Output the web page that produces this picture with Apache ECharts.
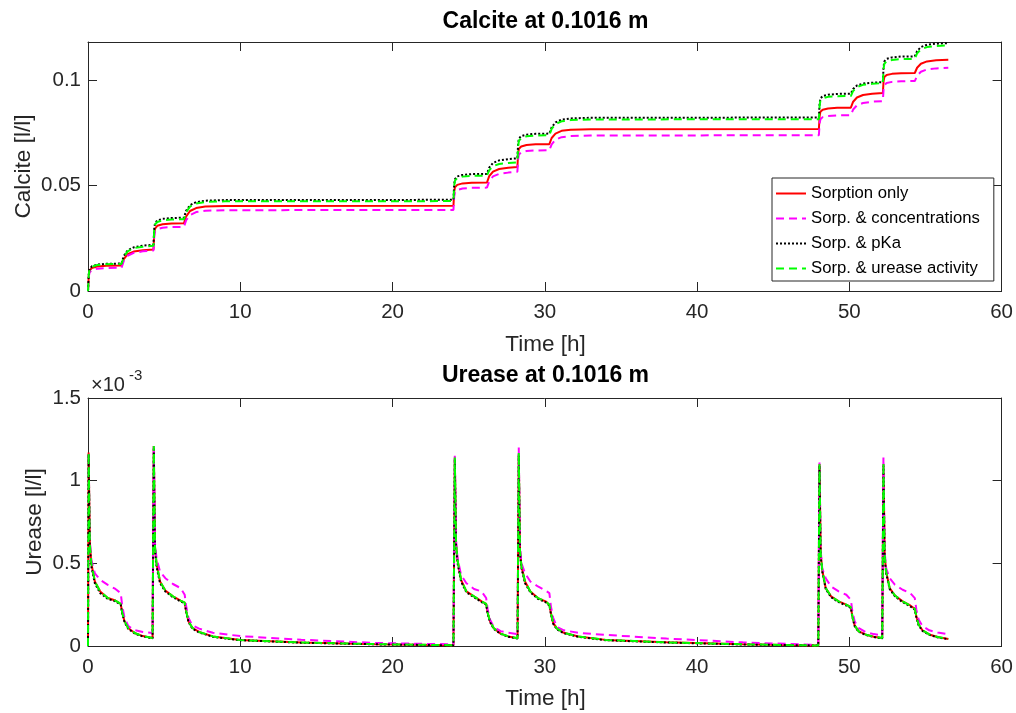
<!DOCTYPE html>
<html>
<head>
<meta charset="utf-8">
<script src="https://cdn.jsdelivr.net/npm/echarts@6/dist/echarts.min.js"></script>
<style>
html,body{margin:0;padding:0;background:#fff;}
#chart{width:1016px;height:713px;}
</style>
</head>
<body>
<div id="chart"></div>
<script>
// ---------- Data ----------
const seriesNames = ['Sorption only', 'Sorp. & concentrations', 'Sorp. & pKa', 'Sorp. & urease activity'];
const xTicks = [0, 10, 20, 30, 40, 50, 60];
const calciteTicks = [0, 0.05, 0.1];
const ureaseTicks = [0, 0.5, 1, 1.5]; // ×10^-3

// Calcite [l/l] vs time [h]
const calciteTime = [
  0, 0.05, 0.1, 0.25, 0.6, 1.2,
  2.2, 2.35, 2.6, 3.0, 3.6,
  4.3, 4.35, 4.4, 4.55, 4.9, 5.5,
  6.3, 6.45, 6.7, 7.1, 7.7, 9,
  24, 24.05, 24.1, 24.25, 24.6, 25.2,
  26.2, 26.35, 26.6, 27.0, 27.6,
  28.2, 28.25, 28.3, 28.45, 28.8, 29.4,
  30.3, 30.45, 30.7, 31.1, 31.7, 33,
  48, 48.05, 48.1, 48.25, 48.6, 49.2,
  50.1, 50.25, 50.5, 50.9, 51.5,
  52.2, 52.25, 52.3, 52.45, 52.8, 53.4,
  54.3, 54.45, 54.7, 55.1, 55.7,
  56.5
];
const calciteSorption = [
  0, 0.0073, 0.0097, 0.0109, 0.0116, 0.0120,
  0.0121, 0.0151, 0.0174, 0.0187, 0.0193,
  0.0197, 0.0271, 0.0296, 0.0309, 0.0316, 0.0320,
  0.0321, 0.0354, 0.0379, 0.0393, 0.0400, 0.0403,
  0.0404, 0.0470, 0.0492, 0.0503, 0.0510, 0.0513,
  0.0514, 0.0544, 0.0566, 0.0578, 0.0584,
  0.0588, 0.0653, 0.0674, 0.0685, 0.0692, 0.0695,
  0.0696, 0.0725, 0.0746, 0.0759, 0.0764, 0.0767,
  0.0768, 0.0829, 0.0849, 0.0859, 0.0865, 0.0868,
  0.0869, 0.0897, 0.0917, 0.0929, 0.0935,
  0.0938, 0.0995, 0.1014, 0.1024, 0.1029, 0.1032,
  0.1033, 0.1058, 0.1077, 0.1088, 0.1093,
  0.1096
];
const calciteConc = [
  0, 0.0066, 0.0088, 0.0099, 0.0106, 0.0109,
  0.0110, 0.0143, 0.0167, 0.0181, 0.0188,
  0.0192, 0.0259, 0.0282, 0.0293, 0.0300, 0.0303,
  0.0304, 0.0336, 0.0360, 0.0374, 0.0380, 0.0383,
  0.0384, 0.0448, 0.0469, 0.0479, 0.0486, 0.0489,
  0.0490, 0.0520, 0.0543, 0.0555, 0.0561,
  0.0565, 0.0626, 0.0647, 0.0657, 0.0663, 0.0666,
  0.0667, 0.0695, 0.0717, 0.0729, 0.0734, 0.0737,
  0.0738, 0.0795, 0.0814, 0.0824, 0.0829, 0.0832,
  0.0833, 0.0860, 0.0880, 0.0891, 0.0897,
  0.0900, 0.0957, 0.0976, 0.0986, 0.0991, 0.0994,
  0.0995, 0.1020, 0.1039, 0.1050, 0.1055,
  0.1058
];
const calcitePka = [
  0, 0.0078, 0.0104, 0.0117, 0.0125, 0.0129,
  0.0130, 0.0166, 0.0192, 0.0207, 0.0215,
  0.0219, 0.0296, 0.0321, 0.0334, 0.0342, 0.0346,
  0.0347, 0.0381, 0.0407, 0.0421, 0.0428, 0.0431,
  0.0432, 0.0506, 0.0530, 0.0543, 0.0550, 0.0554,
  0.0555, 0.0585, 0.0607, 0.0619, 0.0625,
  0.0629, 0.0699, 0.0723, 0.0734, 0.0741, 0.0745,
  0.0746, 0.0776, 0.0799, 0.0812, 0.0818, 0.0821,
  0.0822, 0.0890, 0.0912, 0.0924, 0.0930, 0.0934,
  0.0935, 0.0957, 0.0974, 0.0983, 0.0987,
  0.0990, 0.1063, 0.1088, 0.1100, 0.1107, 0.1111,
  0.1112, 0.1137, 0.1156, 0.1167, 0.1172,
  0.1175
];
const calciteActivity = [
  0, 0.0077, 0.0102, 0.0115, 0.0123, 0.0127,
  0.0128, 0.0162, 0.0188, 0.0203, 0.0210,
  0.0214, 0.0290, 0.0315, 0.0327, 0.0335, 0.0339,
  0.0340, 0.0374, 0.0400, 0.0415, 0.0422, 0.0425,
  0.0426, 0.0499, 0.0523, 0.0535, 0.0542, 0.0546,
  0.0547, 0.0572, 0.0591, 0.0602, 0.0607,
  0.0610, 0.0687, 0.0712, 0.0725, 0.0733, 0.0737,
  0.0738, 0.0768, 0.0791, 0.0804, 0.0810, 0.0813,
  0.0814, 0.0880, 0.0902, 0.0913, 0.0920, 0.0923,
  0.0924, 0.0948, 0.0967, 0.0977, 0.0982,
  0.0985, 0.1054, 0.1077, 0.1089, 0.1095, 0.1099,
  0.1100, 0.1126, 0.1145, 0.1156, 0.1161,
  0.1164
];

// Urease [l/l] in units of 1e-3, vs time [h]
const ureaseTime = [
  0, 0.04, 0.12, 0.22, 0.45, 0.8, 1.3, 1.8, 2.15, 2.25, 2.4, 2.65, 3.1, 3.6, 4.24,
  4.28, 4.32, 4.4, 4.5, 4.73, 5.08, 5.58, 6.08, 6.35, 6.45, 6.6, 6.85, 7.3, 8.2, 10, 14, 19, 24.0,
  24.05, 24.09, 24.17, 24.27, 24.5, 24.85, 25.35, 25.85, 26.15, 26.25, 26.4, 26.65, 27.1, 27.6, 28.21,
  28.25, 28.29, 28.37, 28.47, 28.7, 29.05, 29.55, 30.05, 30.3, 30.4, 30.55, 30.8, 31.25, 32.2, 34, 38, 43, 47.96,
  48.0, 48.04, 48.12, 48.22, 48.45, 48.8, 49.3, 49.8, 50.1, 50.2, 50.35, 50.6, 51.05, 51.6, 52.16,
  52.2, 52.24, 52.32, 52.42, 52.65, 53.0, 53.5, 54.0, 54.3, 54.4, 54.55, 54.8, 55.25, 55.8, 56.5
];
const ureaseSorption = [
  0, 1.17, 0.62, 0.50, 0.39, 0.33, 0.29, 0.275, 0.255, 0.20, 0.15, 0.107, 0.077, 0.06, 0.048,
  0.046, 1.21, 0.60, 0.50, 0.39, 0.335, 0.30, 0.275, 0.262, 0.21, 0.15, 0.11, 0.085, 0.058, 0.036, 0.021, 0.011, 0.005,
  0.005, 1.14, 0.62, 0.52, 0.40, 0.33, 0.30, 0.27, 0.255, 0.20, 0.15, 0.107, 0.075, 0.058, 0.047,
  0.047, 1.16, 0.58, 0.48, 0.39, 0.33, 0.29, 0.27, 0.25, 0.20, 0.14, 0.105, 0.08, 0.058, 0.037, 0.022, 0.01, 0.003,
  0.003, 1.10, 0.56, 0.46, 0.35, 0.30, 0.27, 0.25, 0.235, 0.18, 0.125, 0.09, 0.07, 0.056, 0.048,
  0.048, 1.10, 0.55, 0.45, 0.35, 0.305, 0.27, 0.245, 0.225, 0.18, 0.13, 0.095, 0.07, 0.054, 0.043
];
const ureaseConc = [
  0, 1.17, 0.64, 0.52, 0.44, 0.40, 0.37, 0.345, 0.32, 0.24, 0.17, 0.12, 0.095, 0.085, 0.078,
  0.078, 1.22, 0.62, 0.53, 0.45, 0.41, 0.375, 0.35, 0.31, 0.24, 0.17, 0.125, 0.105, 0.08, 0.06, 0.038, 0.018, 0.01,
  0.01, 1.15, 0.64, 0.53, 0.43, 0.38, 0.345, 0.33, 0.29, 0.22, 0.16, 0.115, 0.09, 0.08, 0.072,
  0.072, 1.20, 0.60, 0.50, 0.44, 0.39, 0.36, 0.335, 0.32, 0.24, 0.17, 0.115, 0.095, 0.08, 0.067, 0.045, 0.022, 0.006,
  0.006, 1.11, 0.58, 0.47, 0.41, 0.36, 0.33, 0.31, 0.28, 0.21, 0.15, 0.11, 0.085, 0.072, 0.065,
  0.065, 1.14, 0.57, 0.47, 0.41, 0.37, 0.34, 0.32, 0.29, 0.22, 0.16, 0.12, 0.095, 0.082, 0.071
];
const ureasePka = [
  0, 1.16, 0.60, 0.48, 0.38, 0.32, 0.285, 0.27, 0.25, 0.195, 0.145, 0.103, 0.074, 0.058, 0.046,
  0.045, 1.20, 0.58, 0.48, 0.38, 0.33, 0.295, 0.27, 0.258, 0.205, 0.145, 0.106, 0.082, 0.056, 0.035, 0.02, 0.01, 0.004,
  0.004, 1.13, 0.60, 0.50, 0.39, 0.325, 0.295, 0.265, 0.25, 0.195, 0.145, 0.103, 0.073, 0.056, 0.045,
  0.045, 1.15, 0.56, 0.47, 0.38, 0.325, 0.285, 0.265, 0.245, 0.195, 0.135, 0.10, 0.077, 0.056, 0.035, 0.021, 0.009, 0.003,
  0.003, 1.09, 0.54, 0.45, 0.345, 0.295, 0.265, 0.245, 0.23, 0.175, 0.12, 0.087, 0.068, 0.054, 0.046,
  0.046, 1.09, 0.53, 0.44, 0.345, 0.30, 0.265, 0.24, 0.22, 0.175, 0.125, 0.092, 0.068, 0.052, 0.041
];
const ureaseActivity = [
  0, 1.17, 0.62, 0.50, 0.39, 0.33, 0.29, 0.275, 0.255, 0.20, 0.15, 0.107, 0.077, 0.06, 0.048,
  0.046, 1.21, 0.60, 0.50, 0.39, 0.335, 0.30, 0.275, 0.262, 0.21, 0.15, 0.11, 0.085, 0.058, 0.036, 0.021, 0.011, 0.005,
  0.005, 1.14, 0.62, 0.52, 0.40, 0.33, 0.30, 0.27, 0.255, 0.20, 0.15, 0.107, 0.075, 0.058, 0.047,
  0.047, 1.17, 0.58, 0.48, 0.39, 0.33, 0.29, 0.27, 0.25, 0.20, 0.14, 0.105, 0.08, 0.058, 0.037, 0.022, 0.01, 0.003,
  0.003, 1.10, 0.56, 0.46, 0.35, 0.30, 0.27, 0.25, 0.235, 0.18, 0.125, 0.09, 0.07, 0.056, 0.048,
  0.048, 1.11, 0.55, 0.45, 0.35, 0.305, 0.27, 0.245, 0.225, 0.18, 0.13, 0.095, 0.07, 0.054, 0.043
];

// ---------- Styling ----------
const FONT = "'Liberation Sans', Arial, Helvetica, sans-serif";
const AX = '#262626';
const seriesStyles = [
  { color: '#ff0000', type: 'solid' },
  { color: '#ff00ff', type: [8, 5] },
  { color: '#000000', type: [2, 2] },
  { color: '#00ff00', type: [8, 5] }
];

function pairs(t, v) { return t.map((x, i) => [x, v[i]]); }

const calciteSets = [calciteSorption, calciteConc, calcitePka, calciteActivity];
const ureaseSets = [ureaseSorption, ureaseConc, ureasePka, ureaseActivity];

function mkSeries(name, idx, data, axIdx) {
  const st = seriesStyles[idx];
  return {
    name: name, type: 'line', data: data,
    xAxisIndex: axIdx, yAxisIndex: axIdx,
    symbol: 'none', showSymbol: false, animation: false,
    lineStyle: { color: st.color, width: 2, type: st.type },
    itemStyle: { color: st.color },
    emphasis: { disabled: true }
  };
}

const series = [];
seriesNames.forEach((n, i) => series.push(mkSeries(n, i, pairs(calciteTime, calciteSets[i]), 0)));
seriesNames.forEach((n, i) => series.push(mkSeries(n, i, pairs(ureaseTime, ureaseSets[i]), 2)));

function xAx(grid, pos, labels) {
  return {
    type: 'value', gridIndex: grid, position: pos, min: xTicks[0], max: xTicks[xTicks.length - 1],
    interval: xTicks[1] - xTicks[0],
    axisLine: { show: true, onZero: false, lineStyle: { color: AX, width: 1 } },
    axisTick: { show: true, inside: true, length: 9, lineStyle: { color: AX, width: 1 } },
    axisLabel: { show: labels, color: AX, fontSize: 20.5, fontFamily: FONT, margin: 11 },
    splitLine: { show: false }
  };
}
function yAx(grid, pos, labels, ticks, max) {
  return {
    type: 'value', gridIndex: grid, position: pos, min: ticks[0], max: max,
    interval: ticks[1] - ticks[0],
    axisLine: { show: true, onZero: false, lineStyle: { color: AX, width: 1 } },
    axisTick: { show: true, inside: true, length: 9, lineStyle: { color: AX, width: 1 } },
    axisLabel: { show: labels, color: AX, fontSize: 20.5, fontFamily: FONT, margin: 7, showMaxLabel: max === ticks[ticks.length - 1] },
    splitLine: { show: false }
  };
}

function txt(x, y, text, font, color, extra) {
  return Object.assign({
    type: 'text', x: x, y: y,
    style: { text: text, fill: color, font: font, align: 'center', verticalAlign: 'middle', textAlign: 'center', textVerticalAlign: 'middle' }
  }, extra || {});
}

const option = {
  backgroundColor: '#ffffff',
  animation: false,
  grid: [
    { left: 88, right: 13, top: 42, height: 249 },
    { left: 88, right: 13, top: 398, height: 248 }
  ],
  xAxis: [xAx(0, 'bottom', true), xAx(0, 'top', false), xAx(1, 'bottom', true), xAx(1, 'top', false)],
  yAxis: [
    yAx(0, 'left', true, calciteTicks, 0.118), yAx(0, 'right', false, calciteTicks, 0.118),
    yAx(1, 'left', true, ureaseTicks, 1.5), yAx(1, 'right', false, ureaseTicks, 1.5)
  ],
  legend: {
    data: seriesNames, orient: 'vertical', left: 772, top: 178,
    itemWidth: 30, itemHeight: 14, itemGap: 8,
    padding: [7, 14, 4, 3],
    borderColor: AX, borderWidth: 1, backgroundColor: '#ffffff',
    itemStyle: { opacity: 0 },
    textStyle: { fontSize: 16.7, color: '#000', fontFamily: FONT },
    selectedMode: false
  },
  graphic: [
    txt(545.5, 22, 'Calcite at 0.1016 m', "bold 23px " + FONT, '#000'),
    txt(545.5, 376, 'Urease at 0.1016 m', "bold 23px " + FONT, '#000'),
    txt(545.5, 345, 'Time [h]', "22.5px " + FONT, AX),
    txt(545.5, 699, 'Time [h]', "22.5px " + FONT, AX),
    txt(24, 166.5, 'Calcite [l/l]', "22.5px " + FONT, AX, { rotation: Math.PI / 2 }),
    txt(35, 522, 'Urease [l/l]', "22.5px " + FONT, AX, { rotation: Math.PI / 2 }),
    { type: 'text', x: 91, y: 385, style: { text: '×10', fill: AX, font: "20px " + FONT, align: 'left', verticalAlign: 'middle', textAlign: 'left', textVerticalAlign: 'middle' } },
    { type: 'text', x: 129, y: 376, style: { text: '-3', fill: AX, font: "15px " + FONT, align: 'left', verticalAlign: 'middle', textAlign: 'left', textVerticalAlign: 'middle' } }
  ],
  series: series
};

const chart = echarts.init(document.getElementById('chart'), null, { renderer: 'canvas' });
chart.setOption(option);
</script>
</body>
</html>
